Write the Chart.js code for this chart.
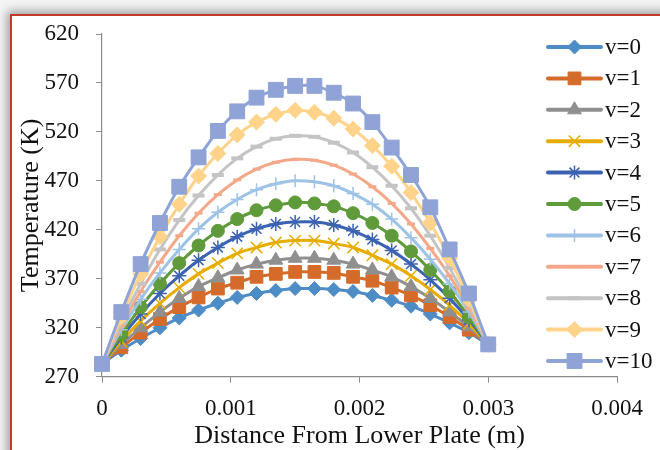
<!DOCTYPE html>
<html>
<head>
<meta charset="utf-8">
<script src="https://cdn.jsdelivr.net/npm/chart.js@4"></script>
<style>
  html, body { margin: 0; padding: 0; }
  body { width: 660px; height: 450px; overflow: hidden; position: relative; background: #f4f4f4; }
  #frame { position: absolute; left: 10px; top: 14px; width: 720px; height: 520px; background: #ffffff;
           border-left: 2px solid #c0392b; border-top: 2px solid #c0392b;
           box-shadow: -3px -3px 9px rgba(0,0,0,0.35); }
  #wrap { position: absolute; left: 0; top: 0; width: 660px; height: 450px; }
</style>
</head>
<body>
<div id="frame"></div>
<div id="wrap"><canvas id="c" width="660" height="450"></canvas></div>
<script>
// Distance from lower plate (m)
const xs = [0, 0.00015, 0.0003, 0.00045, 0.0006, 0.00075, 0.0009, 0.00105, 0.0012, 0.00135, 0.0015,
            0.00165, 0.0018, 0.00195, 0.0021, 0.00225, 0.0024, 0.00255, 0.0027, 0.00285, 0.003];
const seriesNames = ['v=0','v=1','v=2','v=3','v=4','v=5','v=6','v=7','v=8','v=9','v=10'];
// Temperature (K)
const v0  = [283, 297, 309, 320, 330, 338, 345, 351, 355, 358, 360, 360, 359, 357, 353, 348, 342, 334, 325, 315, 303];
const v1  = [283, 300, 315, 329, 341, 351, 360, 366, 372, 375, 377, 377, 376, 372, 368, 361, 353, 343, 331, 318, 303];
const v2  = [283, 303, 320, 336, 350, 362, 371, 379, 385, 389, 391, 391, 389, 385, 379, 372, 362, 350, 336, 321, 303];
const v3  = [283, 306, 327, 345, 361, 375, 386, 396, 402, 407, 409, 409, 406, 402, 394, 385, 373, 359, 343, 324, 303];
const v4  = [283, 310, 334, 355, 373, 389, 402, 413, 421, 426, 428, 428, 425, 419, 410, 399, 385, 369, 350, 328, 303];
const v5  = [283, 313, 341, 365, 386, 404, 419, 431, 440, 445, 448, 447, 444, 437, 427, 414, 398, 379, 357, 331, 303];
const v6  = [283, 318, 349, 376, 400, 421, 438, 451, 461, 467, 470, 469, 465, 457, 446, 431, 412, 390, 365, 336, 303];
const v7  = [283, 322, 357, 387, 414, 437, 456, 471, 482, 489, 492, 491, 486, 477, 464, 447, 426, 401, 373, 340, 303];
const v8  = [283, 326, 365, 400, 430, 455, 476, 493, 505, 513, 516, 515, 509, 499, 484, 465, 442, 414, 381, 344, 303];
const v9  = [283, 331, 375, 413, 446, 475, 498, 517, 530, 538, 542, 540, 534, 523, 506, 485, 458, 427, 391, 349, 303];
const v10 = [283, 336, 385, 427, 464, 494, 521, 541, 555, 563, 567, 567, 560, 549, 530, 504, 476, 443, 400, 355, 303];
const yTickValues = [270, 320, 370, 420, 470, 520, 570, 620];
const xTickLabels = ['0', '0.001', '0.002', '0.003', '0.004'];

const allSeries = [v0, v1, v2, v3, v4, v5, v6, v7, v8, v9, v10];
const colors = ['#4e8cc6', '#d56b2a', '#8f8f8f', '#e6ad00', '#3b63b1', '#5f9a3b',
                '#9ec3e6', '#f3a989', '#c4c4c4', '#ffd38a', '#8fa3d6'];
const styles = [
  {ps: 'rectRot', r: 7, bw: 1},
  {ps: 'rect', r: 9, bw: 1},
  {ps: 'triangle', r: 8, bw: 1},
  {ps: 'crossRot', r: 8, bw: 1.5},
  {ps: 'star', r: 7, bw: 1.5},
  {ps: 'circle', r: 6.5, bw: 1},
  {ps: 'cross', r: 6.5, bw: 1.5},
  {ps: 'line', r: 4, bw: 3},
  {ps: 'line', r: 6, bw: 4},
  {ps: 'rectRot', r: 8, bw: 1},
  {ps: 'rect', r: 10.5, bw: 1}
];

const datasets = allSeries.map((arr, i) => ({
  label: seriesNames[i],
  data: xs.map((x, k) => ({x: x, y: arr[k]})),
  borderColor: colors[i],
  backgroundColor: colors[i],
  pointBackgroundColor: colors[i],
  pointBorderColor: colors[i],
  pointStyle: styles[i].ps,
  pointRadius: styles[i].r,
  pointBorderWidth: styles[i].bw,
  borderWidth: 3,
  tension: 0.3,
  fill: false,
  clip: false,
  order: 10 - i
}));

const FONT = 'Liberation Serif';

const legendPlugin = {
  id: 'customLegend',
  afterDraw(chart) {
    const ctx = chart.ctx;
    ctx.save();
    seriesNames.forEach((name, i) => {
      const y = 47 + i * 31.4;
      ctx.strokeStyle = colors[i];
      ctx.lineWidth = 4;
      ctx.lineCap = 'round';
      ctx.beginPath();
      ctx.moveTo(548, y);
      ctx.lineTo(601, y);
      ctx.stroke();
      ctx.lineCap = 'butt';
      ctx.fillStyle = colors[i];
      ctx.strokeStyle = colors[i];
      ctx.lineWidth = styles[i].bw;
      Chart.helpers.drawPoint(ctx, {pointStyle: styles[i].ps, radius: styles[i].r, borderWidth: styles[i].bw, rotation: 0}, 574.5, y);
      ctx.fillStyle = '#111111';
      ctx.font = '23px "' + FONT + '"';
      ctx.textAlign = 'left';
      ctx.textBaseline = 'middle';
      ctx.fillText(name, 605, y + 1);
    });
    ctx.restore();
  }
};

new Chart(document.getElementById('c'), {
  type: 'line',
  data: { datasets: datasets },
  plugins: [legendPlugin],
  options: {
    responsive: false,
    animation: false,
    events: [],
    layout: { padding: { left: 0, top: 34, right: 43, bottom: 0 } },
    plugins: { legend: { display: false }, tooltip: { enabled: false } },
    scales: {
      x: {
        type: 'linear',
        min: 0, max: 0.004,
        afterFit(scale) { scale.height = 73.3; },
        afterBuildTicks(scale) { scale.ticks = xTickLabels.map(t => ({value: parseFloat(t)})); },
        ticks: {
          color: '#111111',
          font: { family: FONT, size: 23 },
          padding: 12,
          maxRotation: 0,
          callback: (v, idx) => xTickLabels[idx]
        },
        grid: { display: true, drawOnChartArea: false, drawTicks: true, tickLength: 6, color: '#8c8c8c', lineWidth: 1 },
        border: { display: true, color: '#8c8c8c', width: 1.2 },
        title: { display: true, text: 'Distance From Lower Plate (m)', color: '#111111',
                 font: { family: FONT, size: 26, lineHeight: 1 }, padding: { top: 0, bottom: 1 } }
      },
      y: {
        type: 'linear',
        min: 270, max: 620,
        afterFit(scale) { scale.width = 102; },
        afterBuildTicks(scale) { scale.ticks = yTickValues.map(v => ({value: v})); },
        ticks: {
          color: '#111111',
          font: { family: FONT, size: 23 },
          padding: 17,
          callback: (v) => String(v)
        },
        grid: { display: true, drawOnChartArea: false, drawTicks: true, tickLength: 6, color: '#8c8c8c', lineWidth: 1 },
        border: { display: true, color: '#8c8c8c', width: 1.2 },
        title: { display: true, text: 'Temperature (K)', color: '#111111',
                 font: { family: FONT, size: 26, lineHeight: 1 }, padding: { top: 18, bottom: 0 } }
      }
    }
  }
});
</script>
</body>
</html>
